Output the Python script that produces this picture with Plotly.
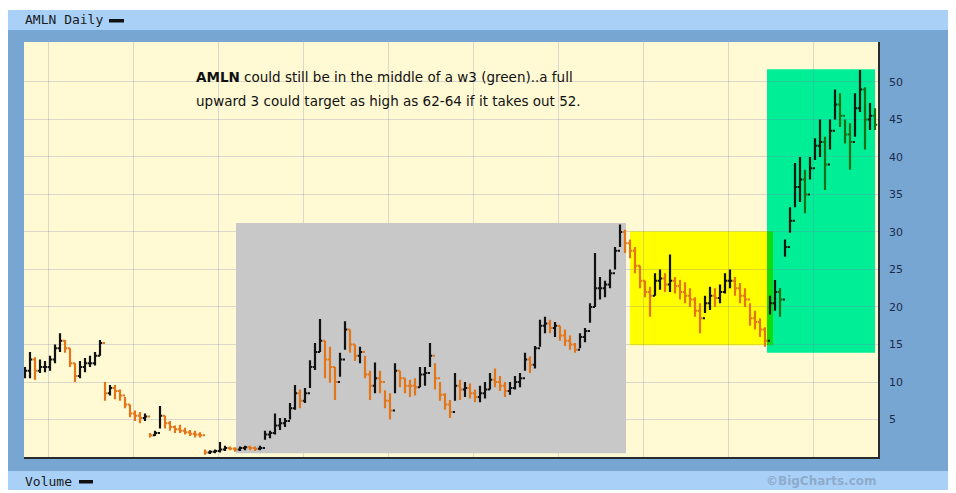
import plotly.graph_objects as go

# ---------------- data ----------------
highs = [12, 14, 13.3, 13, 12.8, 13.5, 15, 16.5, 15.6, 14.5,
         12.5, 12.8, 13.2, 13.5, 14, 15.6, 10, 9.6, 9.6, 9,
         8, 7, 6.2, 6, 5.8, 3.2, 3.5, 6.8, 5.5, 4.8,
         4.2, 4.3, 3.9, 3.6, 3.5, 3.3, 1.0, 0.9, 1.0, 2.0,
         1.5, 1.4, 1.3, 1.4, 1.5, 1.5, 1.4, 1.5, 3.5, 3.5,
         5.8, 5.2, 5.2, 7.2, 9.6, 9, 9.2, 12.9, 15.2, 18.4,
         15.5, 14.7, 12, 13.9, 18.1, 17, 15, 14.7, 13.5, 11.5,
         12.6, 11.5, 8.9, 8.5, 12.5, 11.5, 10.5, 10.3, 10.5, 12,
         12, 15.2, 12.5, 10, 8.5, 7.6, 11.2, 10.3, 10, 9.8,
         9, 9.5, 10, 11.2, 11.8, 10.8, 10, 10, 10.8, 11.2,
         13.9, 13.4, 14.8, 18.3, 18.7, 18.3, 18, 17.5, 17, 16.2,
         15.2, 16.5, 17.2, 20.5, 27.2, 24, 23.5, 25, 28, 31,
         30.3, 29, 28, 25.5, 23.5, 22.7, 24.5, 25, 24.5, 27,
         24, 23.6, 23.3, 22.5, 21.3, 20.5, 21.5, 22.7, 22.5, 23,
         24.5, 25, 24, 23.2, 22.5, 20.5, 19.5, 18.5, 17.3, 21.5,
         23.6, 22.5, 29, 33.3, 39.2, 40, 38.3, 40, 42.5, 45,
         42.7, 45, 49, 48.5, 45, 44.5, 48.5, 51.6, 49.3, 47.2,
         46.5]

lows = [10.5, 10.5, 10.3, 11.2, 11.3, 11.5, 12.5, 14, 13.9, 12,
        10, 10.5, 11.3, 12, 12.2, 13.5, 7.5, 8.2, 7.7, 7.5,
        6.5, 5.3, 4.8, 4.5, 4.8, 2.6, 2.8, 3.8, 3.8, 3.5,
        3.2, 3.2, 3, 2.8, 2.6, 2.6, 0.3, 0.4, 0.5, 0.6,
        0.8, 0.9, 0.7, 0.8, 0.9, 0.9, 0.8, 0.9, 2.3, 2.5,
        3, 3.6, 4, 5, 6.3, 6.5, 7.2, 9.2, 11.6, 14,
        10.5, 9.9, 7.6, 10.7, 14.3, 13.9, 12.8, 12.5, 10.5, 7.6,
        8.5, 8.5, 6.5, 5, 8.5, 9.3, 8.5, 8, 8.2, 9.3,
        9.5, 12, 9, 7.5, 6.3, 5.2, 7.5, 7.6, 8, 7.8,
        7.3, 7.3, 7.8, 9, 9.3, 8.8, 8, 8.3, 9, 9.3,
        11.5, 11.2, 11.8, 14.7, 16.5, 16.5, 16, 15.5, 14.8, 14.3,
        13.9, 14.5, 15.3, 17.9, 20, 21, 21.3, 22.5, 25, 28,
        27.2, 26.5, 24.5, 22.5, 21.3, 18.7, 21.5, 22.3, 22, 22,
        21.8, 21, 20.5, 20, 18.7, 16.5, 19.2, 19.6, 20, 20.5,
        21.8, 22.5, 21.5, 20.5, 20, 17.5, 17, 16, 14.7, 19,
        19.5, 18.7, 26.7, 29.9, 33.3, 34, 32.5, 37, 39.6, 40,
        35.6, 41, 45, 44, 41.8, 38.3, 42.7, 46, 41, 43.6,
        43.6]

closes = [11.5, 13, 11.5, 12, 12, 13, 14.5, 15.5, 14.5, 12.5,
          10.8, 12, 12.5, 12.5, 13.5, 15.2, 8.5, 9.2, 8.8, 8.2,
          7, 5.8, 5.5, 5.2, 5.4, 2.9, 3.2, 5.5, 4.5, 4,
          3.7, 3.5, 3.3, 3.1, 3, 2.9, 0.6, 0.7, 0.8, 1.0,
          1.2, 1.1, 1.0, 1.2, 1.3, 1.2, 1.1, 1.2, 3, 3.2,
          4.2, 4.5, 4.8, 6.5, 8.5, 7.5, 8.5, 12, 14, 15.5,
          13, 12, 10, 13, 17, 15, 13.5, 14, 11, 9.5,
          10.5, 10, 7.5, 6.2, 11.5, 10.5, 9.5, 9.5, 9.3, 11,
          11.2, 13.5, 10.5, 8.3, 7, 6, 9.5, 9, 9.2, 8.5,
          8, 8.5, 9, 10.3, 10, 9.5, 8.8, 9.2, 10, 10.5,
          13, 12.3, 14.5, 17.5, 17.8, 17.2, 17.5, 16.2, 15.5, 15,
          14.3, 16, 16.8, 20, 22.5, 22.5, 23, 24.5, 27.5, 30,
          28.5, 27.5, 25.5, 23.5, 22, 21.5, 23.5, 23.8, 23, 23.5,
          22.8, 22, 21.5, 21, 19.5, 18.5, 20.5, 21.5, 21.2, 22,
          23.5, 23.5, 22.5, 21.5, 21, 18.5, 18, 17, 15.5, 20.5,
          22, 21, 28, 31.5, 36, 37, 35, 38.5, 41.5, 42,
          39, 43.5, 47, 45.5, 43, 42, 46.5, 49, 45, 45.5,
          44.3]

# open of each bar = previous close (BigCharts colours by close vs prior close)
opens = [closes[0]] + closes[:-1]
days = list(range(len(closes)))

y_ticks = [5, 10, 15, 20, 25, 30, 35, 40, 45, 50]
x_grid = [4.6, 21.6, 38.6, 55.6, 72.6, 89.6, 106.6, 123.6, 140.6, 157.6]
green_start = 149  # first bar drawn in the green (wave-3) zone

# highlighted zones: (x0, x1, y0, y1, colour, layer)
zones = [
    (42.2, 120.2, 0.5, 31.2, "#C8C8C8", "between"),
    (121.0, 149.6, 14.9, 30.1, "#FFFF00", "below"),
    (148.4, 170.0, 13.9, 51.7, "#00EF96", "below"),
    (148.4, 149.6, 14.9, 30.1, "#10DC10", "below"),
]

note_line1 = "<b>AMLN</b> could still be in the middle of a w3 (green)..a full"
note_line2 = "upward 3 could target as high as 62-64 if it takes out 52."

# ---------------- figure geometry ----------------
# the page body has an 8px margin, so the figure starts at page (8, 8)
OFF = 8
W, H = 956 - OFF, 493 - OFF
PL, PR, PT, PB = 24, 878, 42, 457  # plot area in page pixels


def px(x):
    return (x - PL) / (PR - PL)


def py(y):
    return (PB - y) / (PB - PT)


FRAME = "#78A6D3"
BAR = "#A9D1F8"

fig = go.Figure()

fig.add_trace(go.Ohlc(
    x=days[:green_start], open=opens[:green_start], high=highs[:green_start],
    low=lows[:green_start], close=closes[:green_start],
    increasing=dict(line=dict(color="#111111", width=2.2)),
    decreasing=dict(line=dict(color="#E4761A", width=2.2)),
    tickwidth=0.45, hoverinfo="skip", showlegend=False))

fig.add_trace(go.Ohlc(
    x=days[green_start:], open=opens[green_start:], high=highs[green_start:],
    low=lows[green_start:], close=closes[green_start:],
    increasing=dict(line=dict(color="#0A1A0A", width=2.2)),
    decreasing=dict(line=dict(color="#1E6E14", width=2.2)),
    tickwidth=0.45, hoverinfo="skip", showlegend=False))

shapes = []
for x0, x1, y0, y1, col, layer in zones:
    shapes.append(dict(type="rect", xref="x", yref="y", x0=x0, x1=x1, y0=y0, y1=y1,
                       fillcolor=col, line=dict(width=0), layer=layer))


# page frame (kept outside the plot area), coordinates in page pixels
def prect(x0, y0, x1, y1, col):
    return dict(type="rect", xref="paper", yref="paper",
                x0=px(x0), x1=px(x1), y0=py(y1), y1=py(y0),
                fillcolor=col, line=dict(width=0), layer="below")


shapes += [
    prect(0, 0, 960, 10, "white"),
    prect(0, 490, 960, 500, "white"),
    prect(949, 0, 960, 500, "white"),
    prect(7, 10, 949, 30, BAR),
    prect(7, 471, 949, 490, BAR),
    prect(109, 19, 124, 22.5, "#111111"),
    prect(79, 480, 93, 483.5, "#111111"),
]

annotations = [
    dict(text=note_line1, x=px(194), y=py(77), xref="paper", yref="paper",
         xanchor="left", yanchor="middle", showarrow=False,
         font=dict(family="DejaVu Sans", size=13.5, color="#111111")),
    dict(text=note_line2, x=px(194), y=py(101), xref="paper", yref="paper",
         xanchor="left", yanchor="middle", showarrow=False,
         font=dict(family="DejaVu Sans", size=13.5, color="#111111")),
    dict(text="AMLN Daily", x=px(23), y=py(20), xref="paper", yref="paper",
         xanchor="left", yanchor="middle", showarrow=False,
         font=dict(family="DejaVu Sans Mono", size=13, color="#1A1A1A")),
    dict(text="Volume", x=px(23), y=py(481), xref="paper", yref="paper",
         xanchor="left", yanchor="middle", showarrow=False,
         font=dict(family="DejaVu Sans Mono", size=13, color="#1A1A1A")),
    dict(text="<b>©BigCharts.com</b>", x=px(879), y=py(481), xref="paper", yref="paper",
         xanchor="right", yanchor="middle", showarrow=False,
         font=dict(family="DejaVu Sans", size=12, color="#8EABCC")),
]

fig.update_layout(
    width=W, height=H,
    margin=dict(l=PL - OFF, r=956 - PR, t=PT - OFF, b=493 - PB, pad=0),
    paper_bgcolor=FRAME, plot_bgcolor="#FFFAD4",
    shapes=shapes, annotations=annotations,
    showlegend=False,
    xaxis=dict(range=[-0.2, 170.6], tickvals=x_grid, showticklabels=False,
               ticks="", showgrid=True, gridcolor="rgba(110,110,170,0.25)", gridwidth=1,
               zeroline=False, showline=True, linecolor="#2A2A2A", linewidth=1.5,
               rangeslider=dict(visible=False), fixedrange=True),
    yaxis=dict(range=[0, 55.33], side="right", tickvals=y_ticks,
               ticktext=[str(v) for v in y_ticks], ticks="",
               ticklabelstandoff=7,
               tickfont=dict(family="DejaVu Sans", size=11, color="#1C2B4A"),
               showgrid=True, gridcolor="rgba(110,110,170,0.25)", gridwidth=1,
               zeroline=False, showline=True, linecolor="#2A2A2A", linewidth=1.5,
               fixedrange=True),
)

fig.write_html("out.html")
